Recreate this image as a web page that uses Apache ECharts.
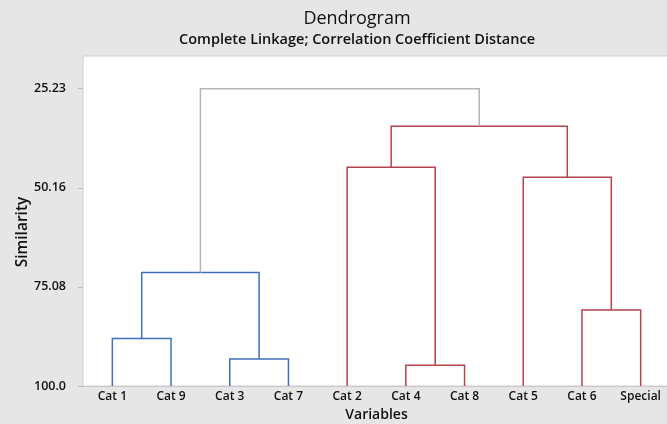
<!DOCTYPE html>
<html>
<head>
<meta charset="utf-8">
<script src="https://cdn.jsdelivr.net/npm/echarts@6/dist/echarts.min.js"></script>
<style>
  html, body { margin: 0; padding: 0; background: #e6e6e6; }
  #main { width: 667px; height: 424px; }
</style>
</head>
<body>
<div id="main"></div>
<script>
// leaf order along the x axis
var categories = ['Cat 1', 'Cat 9', 'Cat 3', 'Cat 7', 'Cat 2', 'Cat 4', 'Cat 8', 'Cat 5', 'Cat 6', 'Special'];
var yTicks = [25.23, 50.16, 75.08, 100.0];

// merges: [child a, child b, similarity]; ids 0-9 are leaves, 10+ are clusters in order
var merges = [
    [0, 1, 88.06],
    [2, 3, 93.2],
    [5, 6, 94.8],
    [8, 9, 80.9],
    [10, 11, 71.45],
    [4, 12, 45.0],
    [7, 13, 47.5],
    [15, 16, 34.7],
    [14, 17, 25.23]
];
var mergeGroup = ['blue', 'blue', 'red', 'red', 'blue', 'red', 'red', 'red', 'grey'];
var groupColor = { blue: '#3f70ba', red: '#b4434f', grey: '#b5b5b5' };

// build link rows: x of each node = mean of its children, y = merge height
var nodeX = categories.map(function (c, i) { return i; });
var nodeY = categories.map(function () { return 100; });
var links = [];
merges.forEach(function (m, i) {
    var a = m[0], b = m[1], h = m[2];
    links.push([nodeX[a], nodeY[a], nodeX[b], nodeY[b], h, i]);
    nodeX.push((nodeX[a] + nodeX[b]) / 2);
    nodeY.push(h);
});

var myChart = echarts.init(document.getElementById('main'));
var font = 'Open Sans';

option = {
    backgroundColor: '#e6e6e6',
    textStyle: { fontFamily: font },
    title: {
        text: 'Dendrogram',
        subtext: 'Complete Linkage; Correlation Coefficient Distance',
        left: 352,
        textAlign: 'center',
        top: 5,
        itemGap: 4,
        textStyle: { fontFamily: font, fontSize: 18, fontWeight: 'normal', color: '#111' },
        subtextStyle: { fontFamily: font, fontSize: 14.5, fontWeight: 600, color: '#111' }
    },
    grid: {
        left: 83, top: 56, width: 587, height: 330,
        outerBoundsMode: 'none',
        containLabel: false,
        show: true, backgroundColor: '#ffffff', borderColor: '#d0d0d0', borderWidth: 1
    },
    xAxis: [
        {
            type: 'category',
            data: categories,
            boundaryGap: true,
            name: 'Variables',
            nameLocation: 'middle',
            nameGap: 20,
            nameTextStyle: { fontFamily: font, fontSize: 14, fontWeight: 600, color: '#111' },
            axisLine: { lineStyle: { color: '#c8c8c8' } },
            axisTick: { show: false },
            axisLabel: { margin: 5, fontSize: 12, fontWeight: 600, color: '#111' }
        },
        {
            type: 'value',
            min: -0.5,
            max: 9.5,
            show: false
        }
    ],
    yAxis: {
        type: 'value',
        inverse: true,
        min: 17,
        max: 100,
        name: 'Similarity',
        nameLocation: 'middle',
        nameGap: 52,
        nameRotate: 90,
        nameMoveOverlap: false,
        nameTextStyle: { fontFamily: font, fontSize: 15.5, fontWeight: 600, color: '#111', padding: [0, 22, 0, 0] },
        splitLine: { show: false },
        axisLine: { show: false, onZero: false },
        axisTick: { show: true, length: 5, customValues: yTicks, lineStyle: { color: '#bdbdbd' } },
        axisLabel: {
            customValues: yTicks,
            margin: 17,
            fontSize: 12.5,
            fontWeight: 600,
            color: '#111',
            formatter: function (v) { return v === 100 ? '100.0' : v.toFixed(2); }
        }
    },
    series: [
        {
            type: 'custom',
            xAxisIndex: 1,
            yAxisIndex: 0,
            data: links,
            encode: { x: [0, 2], y: [1, 3, 4] },
            renderItem: function (params, api) {
                var xa = api.value(0), ya = api.value(1), xb = api.value(2), yb = api.value(3), h = api.value(4);
                var col = groupColor[mergeGroup[api.value(5)]];
                var pts = [
                    api.coord([xa, ya]), api.coord([xa, h]),
                    api.coord([xb, h]), api.coord([xb, yb])
                ];
                return {
                    type: 'polyline',
                    shape: { points: pts },
                    style: { stroke: col, lineWidth: 1.5, fill: null }
                };
            }
        }
    ]
};

myChart.setOption(option);
</script>
</body>
</html>
